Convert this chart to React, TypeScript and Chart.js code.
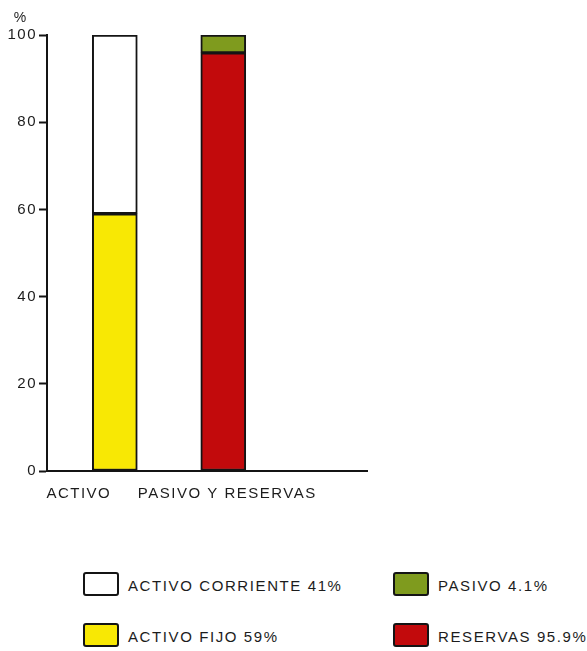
import React, { useEffect, useRef } from "react";
import { Chart, registerables } from "chart.js";

Chart.register(...registerables);

// ---------- DATA ----------
const categories = ["ACTIVO", "PASIVO Y RESERVAS"];
const seriesNames = ["ACTIVO FIJO", "ACTIVO CORRIENTE", "RESERVAS", "PASIVO"];
const activoFijo: (number | null)[] = [59, null];
const activoCorriente: (number | null)[] = [41, null];
const reservas: (number | null)[] = [null, 95.9];
const pasivo: (number | null)[] = [null, 4.1];
const yTickValues = [0, 20, 40, 60, 80, 100];
const yUnitLabel = "%";

// ---------- STYLE ----------
const FONT = "'Liberation Sans', Arial, Helvetica, sans-serif";
const TEXT = "#1c1c1c";
const LINE = "#141414";
const COLORS = {
  fijo: "#f8e804",
  corriente: "#ffffff",
  reservas: "#c20a0c",
  pasivo: "#7f9b1e",
};
const CANVAS_W = 587;
const CANVAS_H = 520;
const CAT_LABEL_SHIFT = [-36, 4];

const seriesValues = [activoFijo, activoCorriente, reservas, pasivo];
const seriesColors = [COLORS.fijo, COLORS.corriente, COLORS.reservas, COLORS.pasivo];

function firstValue(arr: (number | null)[]): number {
  const v = arr.find((x) => x !== null);
  return v as number;
}

// legend grid order (row-major): index into series
const legendOrder = [1, 3, 0, 2];
const legendCols = [83, 393];
const legendRows = [571, 622];

const textPlugin = {
  id: "customText",
  beforeDraw(chart: any) {
    chart.ctx.letterSpacing = "1.5px";
  },
  beforeDatasetsDraw(chart: any) {
    chart.ctx.letterSpacing = "0px";
  },
  afterDraw(chart: any) {
    const ctx = chart.ctx as CanvasRenderingContext2D;
    const xs = chart.scales.x;
    const ys = chart.scales.y;
    ctx.save();
    (ctx as any).letterSpacing = "1.5px";
    ctx.fillStyle = TEXT;
    ctx.font = `15px ${FONT}`;
    ctx.textAlign = "center";
    ctx.textBaseline = "alphabetic";
    categories.forEach((c, i) => {
      ctx.fillText(c, xs.getPixelForValue(i) + CAT_LABEL_SHIFT[i], chart.chartArea.bottom + 27);
    });
    (ctx as any).letterSpacing = "0px";
    ctx.font = `14px ${FONT}`;
    ctx.fillText(yUnitLabel, 20, ys.getPixelForValue(yTickValues[yTickValues.length - 1]) - 13);
    ctx.restore();
  },
};

export default function App() {
  const ref = useRef<HTMLCanvasElement | null>(null);

  useEffect(() => {
    if (!ref.current) return;
    const datasets = seriesNames.map((name, s) => ({
      label: name,
      data: categories
        .map((_, i) => ({ x: i, y: seriesValues[s][i] }))
        .filter((p) => p.y !== null),
      backgroundColor: seriesColors[s],
      borderColor: LINE,
      borderWidth: 2,
      borderSkipped: false as const,
      barThickness: 45,
    }));

    const chart = new Chart(ref.current, {
      type: "bar",
      data: { datasets: datasets as any },
      plugins: [textPlugin],
      options: {
        animation: false,
        responsive: false,
        events: [],
        layout: { padding: { top: 35, right: 220, left: 0, bottom: 0 } },
        plugins: {
          legend: { display: false },
          tooltip: { enabled: false },
        },
        scales: {
          x: {
            type: "linear",
            offset: false,
            min: -0.625,
            max: 2.325,
            stacked: true,
            ticks: { display: false },
            grid: { display: false, offset: false },
            border: { display: true, color: LINE, width: 2 },
            afterFit: (scale: any) => {
              scale.height = 49;
            },
          },
          y: {
            type: "linear",
            min: yTickValues[0],
            max: yTickValues[yTickValues.length - 1],
            stacked: true,
            afterBuildTicks: (scale: any) => {
              scale.ticks = yTickValues.map((v) => ({ value: v }));
            },
            ticks: {
              color: TEXT,
              font: { family: FONT, size: 15 },
              padding: 2,
            },
            grid: {
              display: true,
              drawOnChartArea: false,
              drawTicks: true,
              tickLength: 8,
              tickColor: LINE,
              tickWidth: 2,
            },
            border: { display: true, color: LINE, width: 2 },
            afterFit: (scale: any) => {
              scale.width = 47;
            },
          },
        },
      } as any,
    });
    return () => chart.destroy();
  }, []);

  return (
    <div
      style={{
        position: "fixed",
        left: 0,
        top: 0,
        width: CANVAS_W,
        height: 651,
        background: "#ffffff",
        overflow: "hidden",
      }}
    >
      <canvas
        ref={ref}
        width={CANVAS_W}
        height={CANVAS_H}
        style={{ position: "absolute", left: 0, top: 0, width: CANVAS_W, height: CANVAS_H }}
      />
      {legendOrder.map((s, k) => {
        const col = k % 2;
        const row = Math.floor(k / 2);
        return (
          <div
            key={s}
            style={{
              position: "absolute",
              left: legendCols[col],
              top: legendRows[row],
              display: "flex",
              alignItems: "center",
              height: 25,
            }}
          >
            <div
              style={{
                width: 36,
                height: 24,
                boxSizing: "border-box",
                border: `2px solid ${LINE}`,
                borderRadius: 3,
                background: seriesColors[s],
              }}
            />
            <span
              style={{
                marginLeft: 9,
                font: `15px ${FONT}`,
                letterSpacing: "1.6px",
                color: TEXT,
                whiteSpace: "pre",
                lineHeight: "25px",
                paddingTop: 3,
              }}
            >
              {`${seriesNames[s]} ${firstValue(seriesValues[s])}%`}
            </span>
          </div>
        );
      })}
    </div>
  );
}
